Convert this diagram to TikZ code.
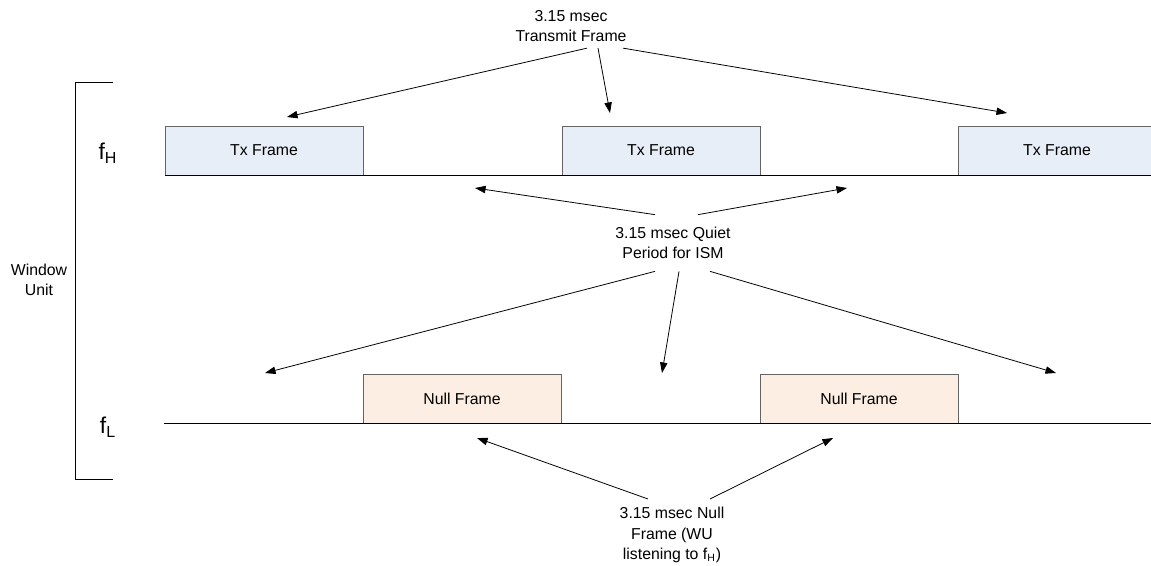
\documentclass[tikz,border=0pt]{standalone}
\usepackage{fontspec}
\setmainfont{Liberation Sans}
\usetikzlibrary{arrows.meta,calc}

\definecolor{txfill}{RGB}{232,238,247}
\definecolor{nullfill}{RGB}{252,238,226}
\definecolor{frameedge}{RGB}{100,100,100}

\tikzstyle{txFrame}=[draw=frameedge,fill=txfill,minimum width=3.96cm,minimum height=0.98cm,inner sep=0pt,font=\fontsize{9}{11}\selectfont]
\tikzstyle{nullFrame}=[txFrame,fill=nullfill]
\tikzstyle{note}=[align=center,inner sep=0pt,font=\fontsize{9}{11.5}\selectfont]
\tikzstyle{freq}=[inner sep=0pt,font=\fontsize{13}{15}\selectfont]
\tikzstyle{pointer}=[-{Triangle[length=6pt,width=4.2pt]},line width=0.45pt]

\begin{document}
\begin{tikzpicture}[x=0.02cm,y=-0.02cm,line width=0.5pt]
        \useasboundingbox (0,0) rectangle (1151,565);

        % frames on f_H
        \node[txFrame] (tx1) at (264,150.5)  {Tx Frame};
        \node[txFrame] (tx2) at (661,150.5)  {Tx Frame};
        \node[txFrame,minimum width=4.4cm] (tx3) at (1068,150.5) {Tx Frame\kern 12.5pt};

        % frames on f_L
        \node[nullFrame] (null1) at (462,398.5) {Null Frame};
        \node[nullFrame] (null2) at (859,398.5) {Null Frame};

        % time lines
        \coordinate (hStart) at (165,175);
        \coordinate (hEnd)   at (1151,175);
        \coordinate (lStart) at (164,423);
        \coordinate (lEnd)   at (1151,423);
        \draw (hStart) to (hEnd);
        \draw (lStart) to (lEnd);

        \node[freq] (fH) at (108,153) {f\textsubscript{H}};
        \node[freq] (fL) at (108,427) {f\textsubscript{L}};

        % window unit bracket
        \coordinate (wTop) at (113,82);
        \coordinate (wBot) at (113,479);
        \draw (wTop) -- (75,82) -- (75,479) -- (wBot);
        \node[note] (wu) at (39,280) {Window\\Unit};

        % labels
        \node[note] (txNote)    at (571,26)  {3.15 msec\\Transmit Frame};
        \node[note] (quietNote) at (673,243) {3.15 msec Quiet\\Period for ISM};
        \node[note] (nullNote)  at (672,535) {3.15 msec Null\\Frame (WU\\listening to f\textsubscript{H})};

        \coordinate (txA) at (287,117);
        \coordinate (txB) at (610,113);
        \coordinate (txC) at (1007,113);
        \coordinate (qA) at (475,188);
        \coordinate (qB) at (847,188);
        \coordinate (qC) at (265,373);
        \coordinate (qD) at (662,373);
        \coordinate (qE) at (1056,373);
        \coordinate (nA) at (477,438);
        \coordinate (nB) at (833,438);

        \draw [pointer] ($(txNote.south)+(16,6)$) to (txA);
        \draw [pointer] ($(txNote.south)+(27,6)$) to (txB);
        \draw [pointer] ($(txNote.south)+(52,6)$) to (txC);

        \draw [pointer] ($(quietNote.north)+(-18,-12)$) to (qA);
        \draw [pointer] ($(quietNote.north)+(25,-12)$) to (qB);
        \draw [pointer] ($(quietNote.south)+(-18,12)$) to (qC);
        \draw [pointer] ($(quietNote.south)+(6,12)$) to (qD);
        \draw [pointer] ($(quietNote.south)+(37,12)$) to (qE);

        \draw [pointer] ($(nullNote.north)+(-24,-8)$) to (nA);
        \draw [pointer] ($(nullNote.north)+(38,-8)$) to (nB);
\end{tikzpicture}
\end{document}
